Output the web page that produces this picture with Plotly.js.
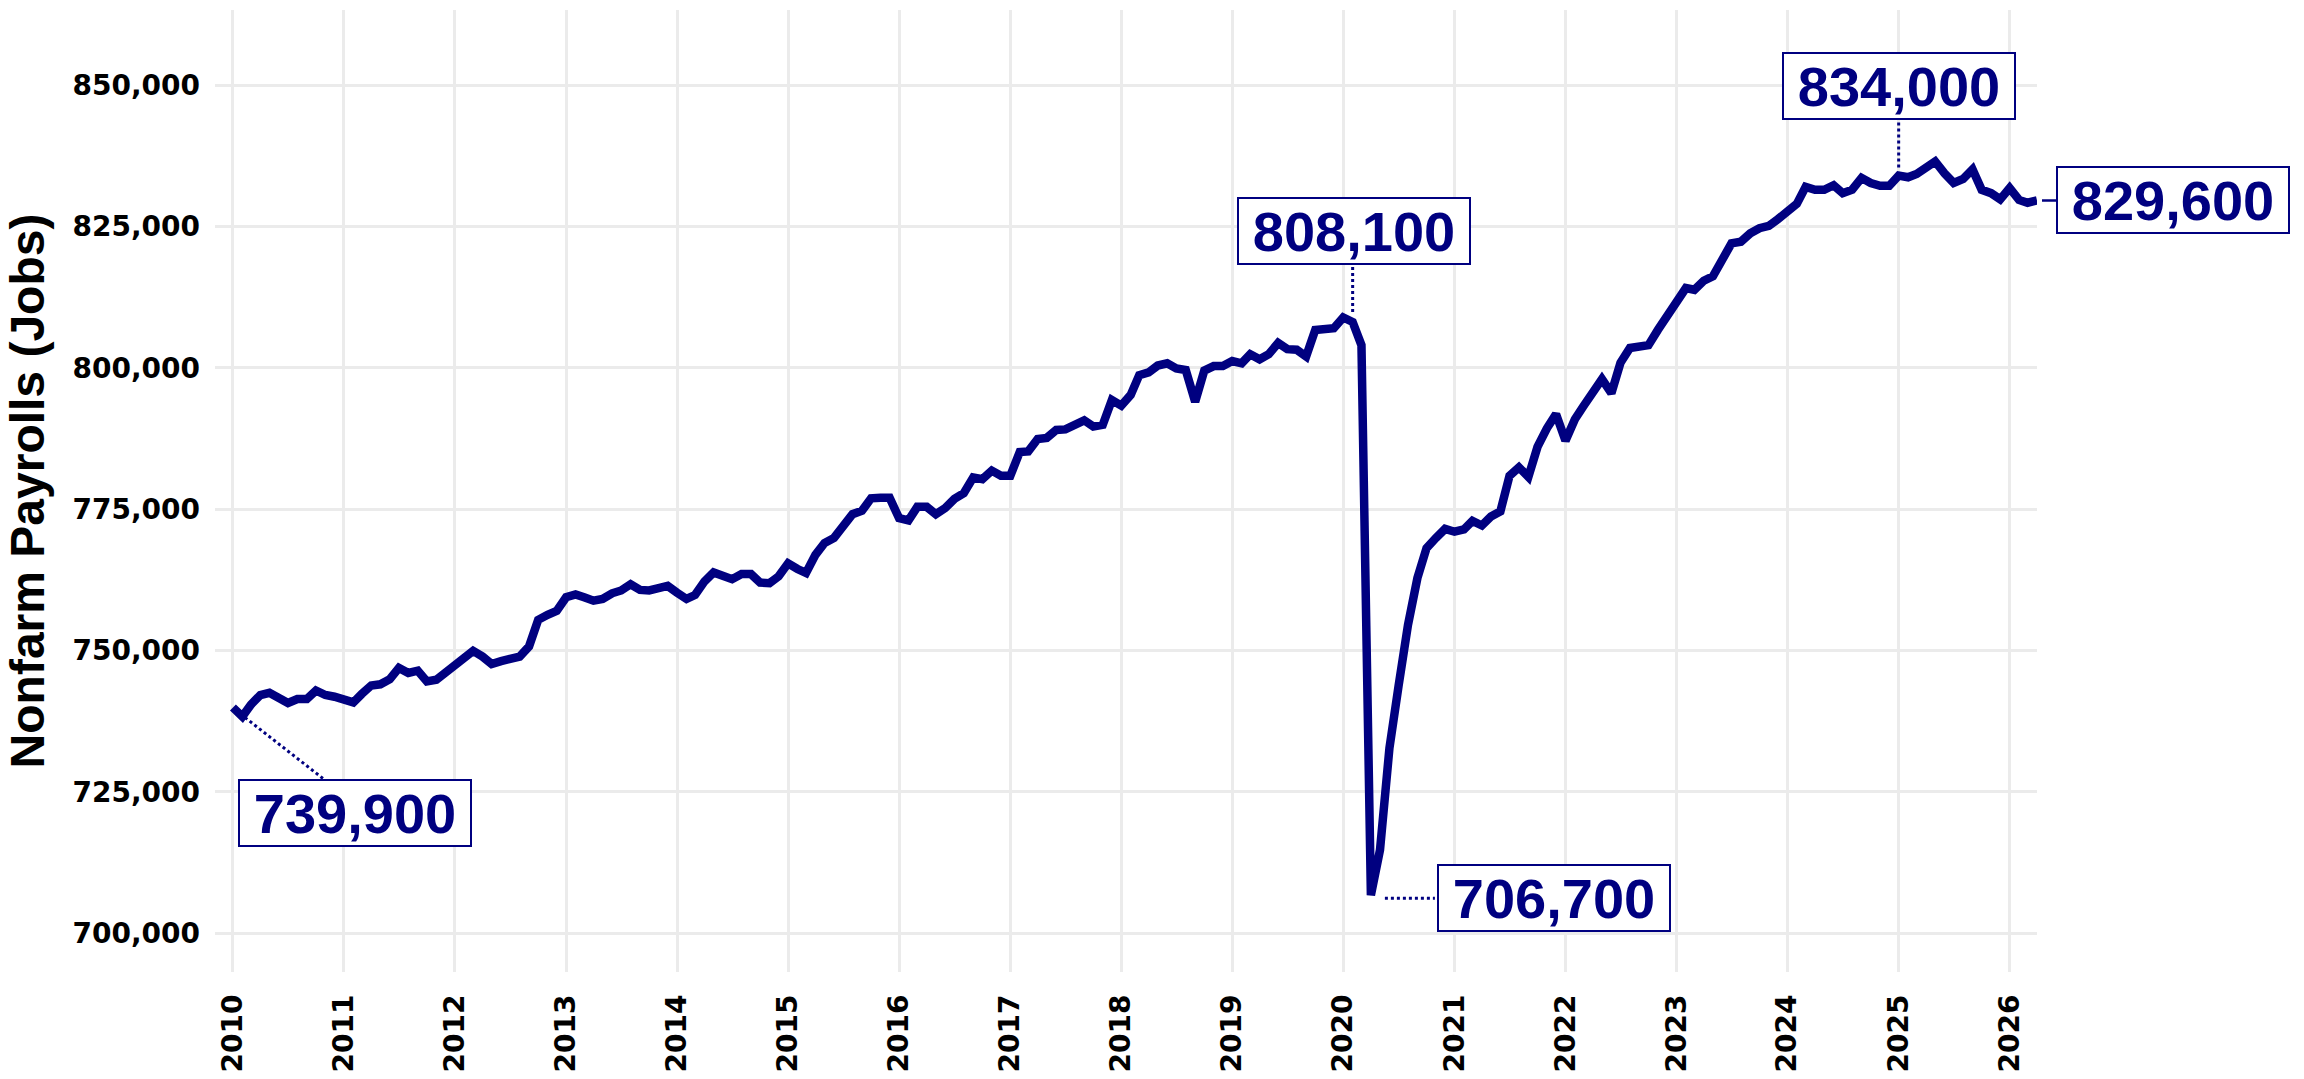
<!DOCTYPE html>
<html>
<head>
<meta charset="utf-8">
<script src="https://cdn.plot.ly/plotly-3.0.1.min.js"></script>
<style>
html, body { margin: 0; padding: 0; background: #ffffff; }
#chart { width: 2304px; height: 1079px; }
</style>
</head>
<body>
<div id="chart"></div>
<script>
// ---------------- DATA ----------------
const years = [2010, 2011, 2012, 2013, 2014, 2015, 2016, 2017, 2018, 2019, 2020, 2021, 2022, 2023, 2024, 2025, 2026];

const payrolls2010 = [739900, 738300, 740400, 742100, 742500, 741500, 740700, 741400, 741400, 742900, 742100, 741800];
const payrolls2011 = [741400, 740800, 742300, 743800, 744000, 744900, 746900, 746000, 746400, 744500, 744800, 746100];
const payrolls2012 = [747700, 749000, 749900, 748900, 747600, 748100, 748600, 748900, 750700, 755400, 756300, 757000];
const payrolls2013 = [759400, 759900, 759400, 758800, 759100, 760100, 760600, 761700, 760700, 760600, 761000, 761400];
const payrolls2014 = [760200, 759100, 759800, 762200, 763800, 763200, 762600, 763500, 763500, 762000, 761900, 763100];
const payrolls2015 = [765400, 764400, 763700, 766900, 769000, 769900, 771900, 774100, 774700, 776900, 777000, 777000];
const payrolls2016 = [773400, 773000, 775400, 775400, 774100, 775200, 776800, 777800, 780600, 780300, 781800, 780900];
const payrolls2017 = [780900, 785100, 785200, 787400, 787600, 789000, 789100, 789700, 790700, 789600, 789900, 794300];
const payrolls2018 = [793300, 795200, 798700, 799200, 800400, 800800, 799900, 799600, 794000, 799500, 800300, 800300];
const payrolls2019 = [801200, 800800, 802400, 801500, 802400, 804400, 803300, 803200, 802000, 806700, 807000, 807000];
const payrolls2020 = [808900, 808100, 804000, 706700, 714700, 732700, 743700, 754500, 762800, 768100, 769900, 771500];
const payrolls2021 = [771000, 771400, 772900, 772100, 773700, 774600, 780900, 782400, 780700, 786000, 789300, 791800];
const payrolls2022 = [787100, 790900, 793200, 795800, 798000, 795500, 800900, 803500, 803900, 804000, 806700, 809000];
const payrolls2023 = [812000, 814100, 813800, 815400, 816200, 819000, 822000, 822300, 823800, 824700, 825100, 826300];
const payrolls2024 = [827800, 829000, 832000, 831500, 831500, 832300, 830900, 831500, 833600, 832700, 832200, 832200];
const payrolls2025 = [834000, 833700, 834300, 835600, 836500, 834400, 832700, 833400, 835100, 831500, 830900, 829800];
const payrolls2026 = [831800, 829700, 829200, 829600];

const yTickVals = [700000, 725000, 750000, 775000, 800000, 825000, 850000];
const yTickText = ['700,000', '725,000', '750,000', '775,000', '800,000', '825,000', '850,000'];
const xTickText = ['2010', '2011', '2012', '2013', '2014', '2015', '2016', '2017', '2018', '2019', '2020', '2021', '2022', '2023', '2024', '2025', '2026'];

// labelled months
const labelDates = ['2010-01-01', '2020-02-01', '2020-04-01', '2025-01-01', '2026-04-01'];

// ---------------- BUILD ----------------
const payrollsByYear = [payrolls2010, payrolls2011, payrolls2012, payrolls2013, payrolls2014, payrolls2015,
  payrolls2016, payrolls2017, payrolls2018, payrolls2019, payrolls2020, payrolls2021, payrolls2022,
  payrolls2023, payrolls2024, payrolls2025, payrolls2026];

const dates = [];
const values = [];
years.forEach((yr, i) => {
  payrollsByYear[i].forEach((v, m) => {
    dates.push(yr + '-' + String(m + 1).padStart(2, '0') + '-01');
    values.push(v);
  });
});
const xTickVals = years.map(y => y + '-01-01');

const NAVY = '#000080';
const GRID = '#ebebeb';

// label placement (pixels): box-centre shift and dotted connector
const labelShift = [[122, -106], [1, 91], [183, -3], [0, 90], [136, 0]];
const connectors = [[12, -10, 90, -71], [0, 10, 0, 55], [14, -3, 64, -3], [0, 8, 0, 57], null];

const fmt = v => v.toLocaleString('en-US');

const annotations = [];
const shapes = [];
labelDates.forEach((d, i) => {
  const v = values[dates.indexOf(d)];
  const base = {
    x: d, y: v, xref: 'x', yref: 'y',
    text: '<b>' + fmt(v) + '</b>',
    font: { family: 'Liberation Sans, Arial, sans-serif', size: 56, color: NAVY },
    bgcolor: '#ffffff', bordercolor: NAVY, borderwidth: 2, borderpad: 1,
    width: 228, height: 62, xanchor: 'center', yanchor: 'middle', align: 'center', valign: 'middle'
  };
  if (connectors[i]) {
    base.showarrow = false;
    base.xshift = labelShift[i][0];
    base.yshift = labelShift[i][1];
    const c = connectors[i];
    shapes.push({
      type: 'line', xref: 'x', yref: 'y', xsizemode: 'pixel', ysizemode: 'pixel',
      xanchor: d, yanchor: v, x0: c[0], y0: c[1], x1: c[2], y1: c[3],
      line: { color: NAVY, width: 3, dash: 'dot' }
    });
  } else {
    base.showarrow = true;
    base.arrowhead = 0;
    base.arrowwidth = 2.5;
    base.arrowcolor = NAVY;
    base.standoff = 5;
    base.axref = 'pixel'; base.ayref = 'pixel';
    base.ax = labelShift[i][0];
    base.ay = -labelShift[i][1];
  }
  annotations.push(base);
});

const trace = {
  type: 'scatter', mode: 'lines', x: dates, y: values,
  line: { color: NAVY, width: 8.5, shape: 'linear' },
  hoverinfo: 'skip', showlegend: false
};

const tickFont = { family: 'DejaVu Sans, sans-serif', size: 28, color: '#000000', weight: 'bold' };

const layout = {
  width: 2304, height: 1079,
  margin: { l: 215, r: 267, t: 10, b: 107, pad: 0 },
  paper_bgcolor: '#ffffff', plot_bgcolor: '#ffffff',
  showlegend: false,
  xaxis: {
    type: 'date', range: ['2009-11-03', '2026-04-01'],
    tickmode: 'array', tickvals: xTickVals, ticktext: xTickText,
    tickangle: -90, tickfont: tickFont, ticks: '', ticklabelstandoff: 16,
    showgrid: true, gridcolor: GRID, gridwidth: 3,
    zeroline: false, showline: false, automargin: false
  },
  yaxis: {
    range: [693100, 863300],
    tickmode: 'array', tickvals: yTickVals, ticktext: yTickText,
    tickfont: tickFont, ticks: '', ticklabelstandoff: 14,
    showgrid: true, gridcolor: GRID, gridwidth: 3,
    zeroline: false, showline: false, automargin: false,
    title: {
      text: '<b>Nonfarm Payrolls (Jobs)</b>',
      font: { family: 'Liberation Sans, Arial, sans-serif', size: 48, color: '#000000' },
      standoff: 12
    }
  },
  annotations: annotations,
  shapes: shapes
};

Plotly.newPlot('chart', [trace], layout, { staticPlot: true, displayModeBar: false });
</script>
</body>
</html>
